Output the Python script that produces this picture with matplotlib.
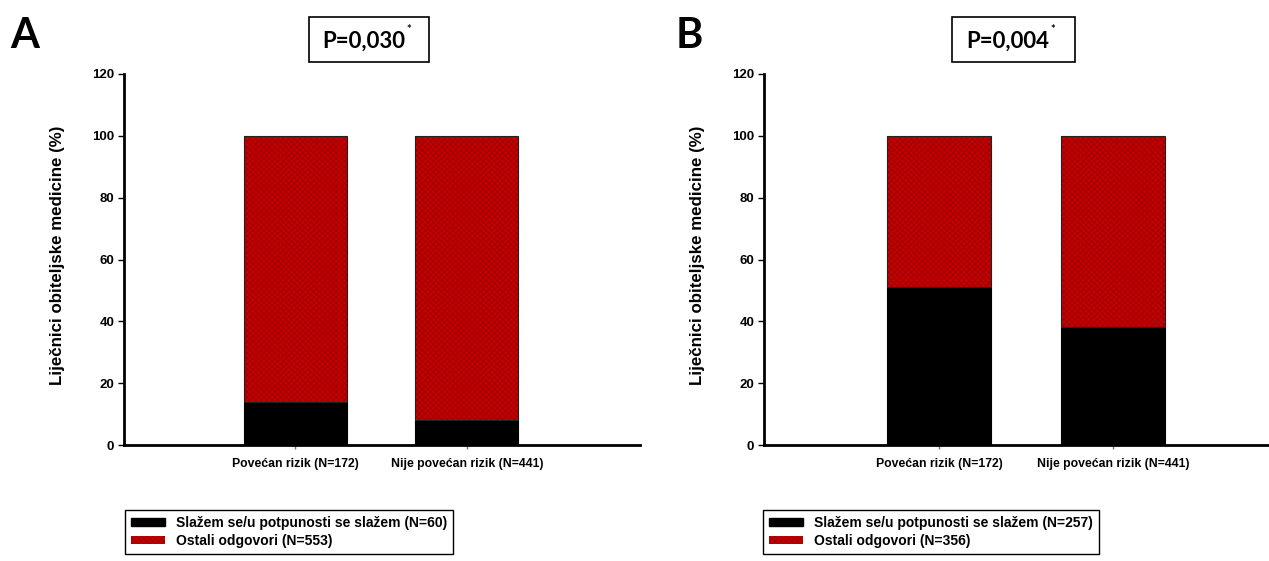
import matplotlib
matplotlib.use("Agg")
import matplotlib.pyplot as plt
from matplotlib.patches import Rectangle, Patch

# data
kategorije = ["Povećan rizik (N=172)", "Nije povećan rizik (N=441)"]
slazem_A = [13.95, 8.16]     # 24/172, 36/441
slazem_B = [51.16, 38.32]    # 88/172, 169/441
ostali_A = [100 - v for v in slazem_A]
ostali_B = [100 - v for v in slazem_B]
legenda_A = ["Slažem se/u potpunosti se slažem (N=60)", "Ostali odgovori (N=553)"]
legenda_B = ["Slažem se/u potpunosti se slažem (N=257)", "Ostali odgovori (N=356)"]
p_vrijednosti = ["P=0,030", "P=0,004"]
slova = ["A", "B"]
y_ticks = [0, 20, 40, 60, 80, 100, 120]

CRVENA = "#c40000"
HATCH = "#960000"
W, H = 1269, 561
SANS = ["Liberation Sans", "DejaVu Sans"]

plt.rcParams["hatch.linewidth"] = 0.5

fig = plt.figure(figsize=(W / 100, H / 100), dpi=100)


def px(x0, y0, x1, y1):
    """piksel koordinate -> [left, bottom, width, height] u figure frakcijama"""
    return [x0 / W, 1 - y1 / H, (x1 - x0) / W, (y1 - y0) / H]


paneli = [
    dict(ax=px(124, 74, 640, 445), xlim=(-1.0, 2.01), slazem=slazem_A, ostali=ostali_A,
         leg=legenda_A, leg_xy=(125, 510), box=(309, 17, 429, 62), ptxt=364, zvj=409,
         slovo_x=10, ylab=65),
    dict(ax=px(764, 74, 1269, 445), xlim=(-1.01, 1.90), slazem=slazem_B, ostali=ostali_B,
         leg=legenda_B, leg_xy=(763, 510), box=(952, 17, 1075, 62), ptxt=1008, zvj=1053,
         slovo_x=676, ylab=705),
]

for i, p in enumerate(paneli):
    ax = fig.add_axes(p["ax"])
    x = list(range(len(kategorije)))
    ax.bar(x, p["slazem"], width=0.6, color="black", edgecolor="black",
           linewidth=0.8, zorder=2)
    ax.bar(x, p["ostali"], bottom=p["slazem"], width=0.6, color=CRVENA,
           edgecolor=HATCH, hatch="xxxxxx", linewidth=0, zorder=2)
    # obrub crvenih stupaca
    ax.bar(x, p["ostali"], bottom=p["slazem"], width=0.6, fill=False,
           edgecolor="#222222", linewidth=0.8, zorder=3)

    ax.set_xlim(*p["xlim"])
    ax.set_ylim(0, 120)
    ax.set_yticks(y_ticks)
    ax.set_xticks(x)
    ax.set_xticklabels(kategorije)
    for s in ("top", "right"):
        ax.spines[s].set_visible(False)
    for s in ("left", "bottom"):
        ax.spines[s].set_linewidth(2.0)
    ax.tick_params(axis="y", length=4, width=1, pad=3, direction="out")
    ax.tick_params(axis="x", length=3, width=1, pad=6, direction="out", color="#777777")
    for lab in ax.get_yticklabels():
        lab.set_family(SANS)
        lab.set_fontweight("bold")
        lab.set_fontsize(9.5)
    for lab in ax.get_xticklabels():
        lab.set_family(SANS)
        lab.set_fontweight("bold")
        lab.set_fontsize(8.8)

    ax.set_ylabel("Liječnici obiteljske medicine (%)", fontsize=12.2,
                  fontweight="bold", family=SANS)
    ax.yaxis.set_label_coords((p["ylab"] - p["ax"][0] * W) / (p["ax"][2] * W), 0.51)

    # legenda
    hand = [Patch(facecolor="black", edgecolor="black"),
            Patch(facecolor=CRVENA, edgecolor=HATCH, hatch="xxxxxx", linewidth=0)]
    lx, ly = p["leg_xy"]
    fig.legend(hand, p["leg"], loc="upper left",
               bbox_to_anchor=(lx / W, 1 - ly / H),
               prop=dict(family=SANS, weight="bold", size=10),
               frameon=True, fancybox=False, edgecolor="black", framealpha=1,
               handlelength=2.4, handleheight=0.5, handletextpad=0.8,
               borderpad=0.45, labelspacing=0.25, borderaxespad=0)

    # P okvir
    x0, y0, x1, y1 = p["box"]
    fig.add_artist(Rectangle((x0 / W, 1 - y1 / H), (x1 - x0) / W, (y1 - y0) / H,
                             transform=fig.transFigure, fill=False,
                             edgecolor="black", linewidth=1.2))
    fig.text(p["ptxt"] / W, 1 - 41 / H, p_vrijednosti[i], ha="center", va="center",
             fontsize=16, fontweight="bold", family="Lato")
    fig.text(p["zvj"] / W, 1 - 30 / H, "*", ha="center", va="center",
             fontsize=8, fontweight="bold", family="Lato")

    fig.text(p["slovo_x"] / W, 1 - 36 / H, slova[i], ha="left", va="center",
             fontsize=30, fontweight="bold", family="Lato")

fig.savefig("out.png", dpi=100, facecolor="white")
